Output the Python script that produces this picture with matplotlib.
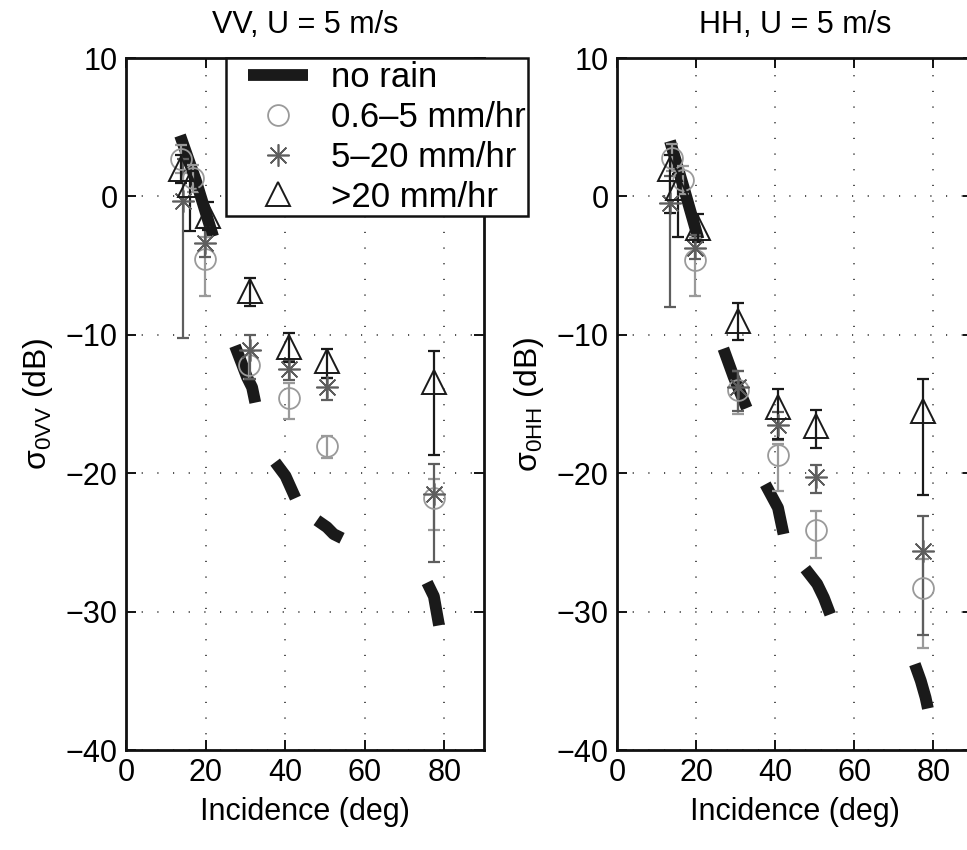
import numpy as np
import matplotlib
matplotlib.use("Agg")
import matplotlib.pyplot as plt
from matplotlib.lines import Line2D
from matplotlib.legend_handler import HandlerLine2D

plt.rcParams['font.family'] = ['Liberation Sans', 'DejaVu Sans']
plt.rcParams['mathtext.fontset'] = 'custom'
plt.rcParams['mathtext.rm'] = 'Liberation Sans'

nan = np.nan

# no rain curves (NaN separates the incidence bins)
norain_inc_vv = [13.6, 17.5, 21.9, nan, 27.4, 30.4, 31.7, 32.5, nan, 37.5, 40.1, 42.6,
                 nan, 48.0, 50.5, 52.2, 54.3, nan, 75.7, 77.4, 78.2, 78.7]
norain_sig_vv = [4.4, 1.2, -2.9, nan, -10.8, -13.05, -13.8, -14.9, nan, -19.2, -20.2, -21.8,
                 nan, -23.4, -23.9, -24.4, -24.7, nan, -27.9, -28.9, -30.2, -31.0]
norain_inc_hh = [13.4, 17.0, 20.6, nan, 26.9, 29.5, 32.8, nan, 37.5, 40.7, 42.1,
                 nan, 47.6, 50.6, 52.3, 53.9, nan, 75.3, 76.8, 78.0, 78.6]
norain_sig_hh = [4.0, 0.5, -3.1, nan, -11.0, -13.05, -15.3, nan, -20.8, -22.5, -24.4,
                 nan, -26.9, -28.0, -29.0, -30.2, nan, -33.8, -35.0, -36.2, -37.0]

# 0.6-5 mm/hr
light_inc_vv = [13.8, 16.8, 19.8, 31.0, 41.0, 50.6, 77.4]
light_sig_vv = [2.7, 1.3, -4.5, -12.2, -14.6, -18.0, -21.8]
light_lo_vv = [1.0, 1.0, 2.7, 1.0, 1.5, 0.9, 2.3]
light_hi_vv = [1.0, 1.0, 1.6, 1.0, 1.1, 0.7, 1.4]
light_inc_hh = [13.8, 16.8, 19.7, 30.7, 40.8, 50.4, 77.4]
light_sig_hh = [2.8, 1.2, -4.6, -14.0, -18.7, -24.1, -28.3]
light_lo_hh = [1.0, 1.0, 2.6, 1.7, 2.6, 2.0, 4.3]
light_hi_hh = [1.0, 1.0, 1.6, 1.4, 0.8, 1.4, 2.1]

# 5-20 mm/hr
mod_inc_vv = [14.3, 19.8, 31.1, 41.1, 50.6, 77.4]
mod_sig_vv = [-0.3, -3.4, -11.1, -12.5, -13.8, -21.5]
mod_lo_vv = [9.9, 1.0, 2.1, 0.8, 0.9, 4.9]
mod_hi_vv = [3.0, 1.1, 1.1, 0.7, 0.7, 2.2]
mod_inc_hh = [13.4, 19.7, 30.7, 40.8, 50.4, 77.4]
mod_sig_hh = [-0.5, -3.7, -13.8, -16.5, -20.3, -25.6]
mod_lo_hh = [7.5, 0.8, 1.7, 1.1, 1.1, 6.1]
mod_hi_hh = [2.0, 0.9, 1.2, 0.9, 0.9, 2.5]

# >20 mm/hr
heavy_inc_vv = [13.8, 16.1, 20.6, 31.1, 41.1, 50.6, 77.4]
heavy_sig_vv = [2.0, 0.8, -1.4, -6.8, -10.9, -11.9, -13.4]
heavy_lo_vv = [1.0, 3.3, 1.0, 1.1, 1.1, 1.2, 5.3]
heavy_hi_vv = [1.0, 1.0, 1.0, 0.9, 1.0, 0.9, 2.2]
heavy_inc_hh = [13.4, 15.5, 20.6, 30.7, 40.8, 50.4, 77.4]
heavy_sig_hh = [2.0, 0.6, -2.3, -9.0, -15.2, -16.6, -15.5]
heavy_lo_hh = [3.2, 3.5, 1.0, 1.4, 2.3, 1.6, 6.1]
heavy_hi_hh = [1.0, 1.0, 1.0, 1.3, 1.3, 1.2, 2.3]

labels = ['no rain', '0.6–5 mm/hr', '5–20 mm/hr', '>20 mm/hr']
c_line = '#1a1a1a'
c_light = '#9a9a9a'
c_mod = '#5e5e5e'
c_heavy = '#1a1a1a'
star = (8, 2, 0)

fig = plt.figure(figsize=(9.67, 8.5), dpi=100)
ax1 = fig.add_axes([126 / 967, 100 / 850, 358 / 967, 692 / 850])
ax2 = fig.add_axes([617 / 967, 100 / 850, 356 / 967, 692 / 850])


def draw(ax, pol, d):
    ax.plot(d['nr'][0], d['nr'][1], color=c_line, lw=8.5, solid_capstyle='butt', zorder=2)
    specs = [(d['light'], 'o', c_light, 15, 1.3),
             (d['mod'], star, c_mod, 16, 1.2),
             (d['heavy'], '^', c_heavy, 17, 1.4)]
    for (x, y, lo, hi), m, c, ms, mew in specs:
        ax.errorbar(x, y, yerr=[lo, hi], fmt='none', ecolor=c, elinewidth=1.6,
                    capsize=4, capthick=1.6, zorder=3)
        ax.plot(x, y, ls='none', marker=m, ms=ms, mfc='none', mec=c, mew=mew, zorder=4)
    ax.set_xlim(0, 90)
    ax.set_ylim(-40, 10)
    ax.set_xticks([0, 20, 40, 60, 80])
    ax.set_yticks([-40, -30, -20, -10, 0, 10])
    ax.set_yticklabels(['−40', '−30', '−20', '−10', '0', '10'])
    ax.tick_params(direction='in', length=7, width=1.3, labelsize=22, top=True, right=True, pad=6)
    ax.grid(True, color='#333333', lw=1.2, ls=(0, (0.7, 8.7)))
    for s in ax.spines.values():
        s.set_linewidth(2)
        s.set_color('#111111')
    ax.set_title(pol + ', U = 5 m/s', fontsize=22, pad=18)
    ax.set_xlabel('Incidence (deg)', fontsize=22, labelpad=6)
    ax.set_ylabel(r'$\mathregular{\sigma_{0' + pol + r'}}$ (dB)', fontsize=23, labelpad=8)


draw(ax1, 'VV', {'nr': (norain_inc_vv, norain_sig_vv),
                 'light': (light_inc_vv, light_sig_vv, light_lo_vv, light_hi_vv),
                 'mod': (mod_inc_vv, mod_sig_vv, mod_lo_vv, mod_hi_vv),
                 'heavy': (heavy_inc_vv, heavy_sig_vv, heavy_lo_vv, heavy_hi_vv)})
draw(ax2, 'HH', {'nr': (norain_inc_hh, norain_sig_hh),
                 'light': (light_inc_hh, light_sig_hh, light_lo_hh, light_hi_hh),
                 'mod': (mod_inc_hh, mod_sig_hh, mod_lo_hh, mod_hi_hh),
                 'heavy': (heavy_inc_hh, heavy_sig_hh, heavy_lo_hh, heavy_hi_hh)})

handles = [Line2D([], [], color=c_line, lw=8.5, solid_capstyle='butt'),
           Line2D([], [], ls='none', marker='o', ms=15, mfc='none', mec=c_light, mew=1.3),
           Line2D([], [], ls='none', marker=star, ms=16, mfc='none', mec=c_mod, mew=1.2),
           Line2D([], [], ls='none', marker='^', ms=17, mfc='none', mec=c_heavy, mew=1.4)]
leg = ax1.legend(handles, labels, loc='upper left', bbox_to_anchor=(0.279, 1.0),
                 borderaxespad=0, fontsize=25, frameon=True, fancybox=False,
                 handlelength=2.28, handletextpad=0.66, labelspacing=0.2,
                 borderpad=0.08, edgecolor='#111111', framealpha=1,
                 handler_map={Line2D: HandlerLine2D(xpad=0.55)})
leg.get_frame().set_linewidth(1.8)
leg.set_zorder(10)

fig.savefig('out.png', dpi=100)
